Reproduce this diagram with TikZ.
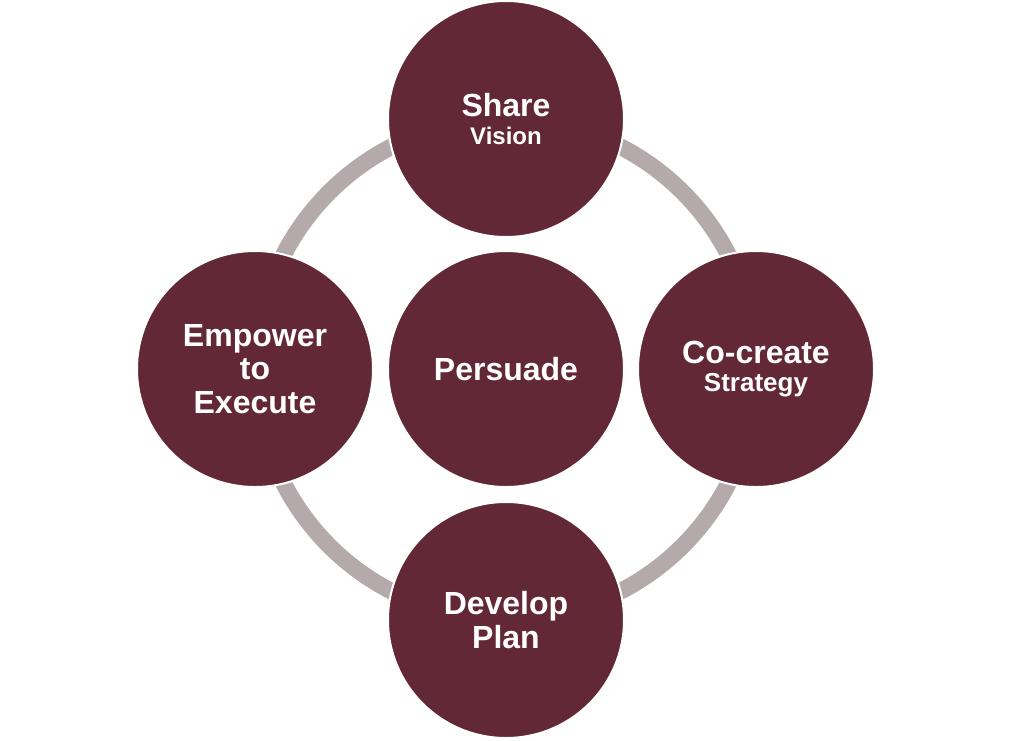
\documentclass[tikz,border=0pt]{standalone}
\usepackage{fontspec}
\setmainfont{Liberation Sans}
\definecolor{wine}{HTML}{632835}
\definecolor{ringgray}{HTML}{B5AAAB}
\begin{document}
\begin{tikzpicture}[x=0.75pt,y=-0.75pt,
  bubble/.style={circle,fill=wine,draw=white,line width=1.5pt,minimum size=177pt,inner sep=0pt,
    text=white,align=center,font=\bfseries\fontsize{24}{25}\selectfont}]
\useasboundingbox (0,0) rectangle (1011,740);
\coordinate (c) at (506,369);
\draw[ringgray,line width=12.5pt] (c) circle[radius=187.5pt];
\node[bubble] (share) at (506,119) {Share\\[-4pt]{\fontsize{18}{20}\selectfont Vision}};
\node[bubble] (cocreate) at (756,369) {Co-create\\[-4pt]{\fontsize{19.5}{21}\selectfont Strategy}};
\node[bubble] (develop) at (506,620) {Develop\\Plan};
\node[bubble] (empower) at (255,369) {Empower\\to\\Execute};
\node[bubble] (persuade) at (c) {Persuade};
\end{tikzpicture}
\end{document}
